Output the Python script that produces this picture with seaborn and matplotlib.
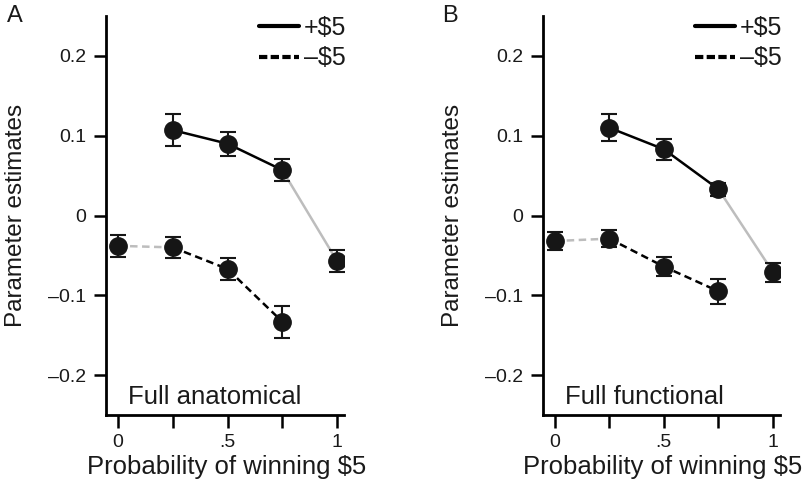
import matplotlib
matplotlib.use("Agg")
import matplotlib.pyplot as plt
import seaborn as sns
import pandas as pd
from matplotlib.lines import Line2D

# ---- data ----
gain_p = [0.25, 0.5, 0.75, 1.0]
loss_p = [0.0, 0.25, 0.5, 0.75]

A_gain = [0.107, 0.090, 0.057, -0.057]
A_gain_err = [0.020, 0.015, 0.014, 0.014]
A_loss = [-0.038, -0.040, -0.067, -0.133]
A_loss_err = [0.014, 0.013, 0.014, 0.020]

B_gain = [0.110, 0.083, 0.033, -0.071]
B_gain_err = [0.017, 0.013, 0.008, 0.012]
B_loss = [-0.032, -0.029, -0.064, -0.095]
B_loss_err = [0.011, 0.011, 0.012, 0.016]

yticks = [-0.2, -0.1, 0, 0.1, 0.2]
ytick_labels = ["\u20130.2", "\u20130.1", "0", "0.1", "0.2"]
xticks = [0, 0.25, 0.5, 0.75, 1]
xtick_labels = ["0", "", ".5", "", "1"]
legend_labels = ["+$5", "\u2013$5"]
titles = ["Full anatomical", "Full functional"]
letters = ["A", "B"]

sns.set_theme(style="ticks")
plt.rcParams["font.family"] = ["Liberation Sans", "DejaVu Sans"]

fig = plt.figure(figsize=(8.06, 4.83), dpi=100)
W, H = 806, 483
axA = fig.add_axes([106 / W, 68 / H, 238 / W, 399 / H])
axB = fig.add_axes([542.7 / W, 68 / H, 237.3 / W, 399 / H])

GRAY = "#bdbdbd"
DASH = (0, (3, 1.8))
LW = 1.8
TXT = "#1a1a1a"


def draw(ax, gain, gain_err, loss, loss_err, title, letter, lx):
    g = pd.DataFrame({"p": gain_p, "v": gain, "e": gain_err})
    l = pd.DataFrame({"p": loss_p, "v": loss, "e": loss_err})
    sns.lineplot(data=g[g.p < 1], x="p", y="v", color="black", lw=LW, ax=ax)
    sns.lineplot(data=g[g.p >= 0.75], x="p", y="v", color=GRAY, lw=LW, ax=ax)
    sns.lineplot(data=l[l.p > 0], x="p", y="v", color="black", lw=LW,
                 linestyle=DASH, ax=ax)
    sns.lineplot(data=l[l.p <= 0.25], x="p", y="v", color=GRAY, lw=LW,
                 linestyle=DASH, ax=ax)
    for df in (g, l):
        ax.errorbar(df.p, df.v, yerr=df.e, fmt="o", color="#161616",
                    ms=12.5, capsize=5.5, elinewidth=1.5, capthick=1.5,
                    zorder=5)
    ax.set_xlim(-0.055, 1.032)
    ax.set_ylim(-0.25, 0.25)
    ax.set_yticks(yticks)
    ax.set_yticklabels(ytick_labels)
    ax.set_xticks(xticks)
    ax.set_xticklabels(xtick_labels)
    ax.tick_params(length=9, width=1.8, labelsize=14, pad=5,
                   color="black", labelcolor=TXT)
    for s in ("top", "right"):
        ax.spines[s].set_visible(False)
    for s in ("left", "bottom"):
        ax.spines[s].set_linewidth(2)
        ax.spines[s].set_color("black")
    ax.set_xlabel("Probability of winning $5", fontsize=18.5, color=TXT)
    ax.set_ylabel("Parameter estimates", fontsize=17.5, color=TXT)
    ax.xaxis.set_label_coords(0.505, -0.1)
    ax.yaxis.set_label_coords(-0.33, 0.5)
    ax.text(0.045, -0.227, title, fontsize=18.5, ha="left", va="center",
            color=TXT)
    handles = [Line2D([0], [0], color="black", lw=3),
               Line2D([0], [0], color="black", lw=3, linestyle=(0, (2, 0.8)))]
    ax.legend(handles, legend_labels, loc="upper right",
              bbox_to_anchor=(1.01, 1.0), frameon=False, fontsize=18,
              handlelength=1.6, handletextpad=0.2, labelspacing=0.25,
              borderpad=0, borderaxespad=0, labelcolor=TXT)
    fig.text(lx / W, 1 - 5 / H, letter, fontsize=17, ha="left", va="top",
             color=TXT)


draw(axA, A_gain, A_gain_err, A_loss, A_loss_err, titles[0], letters[0], 7)
draw(axB, B_gain, B_gain_err, B_loss, B_loss_err, titles[1], letters[1], 442)

fig.savefig("out.png", dpi=100)
